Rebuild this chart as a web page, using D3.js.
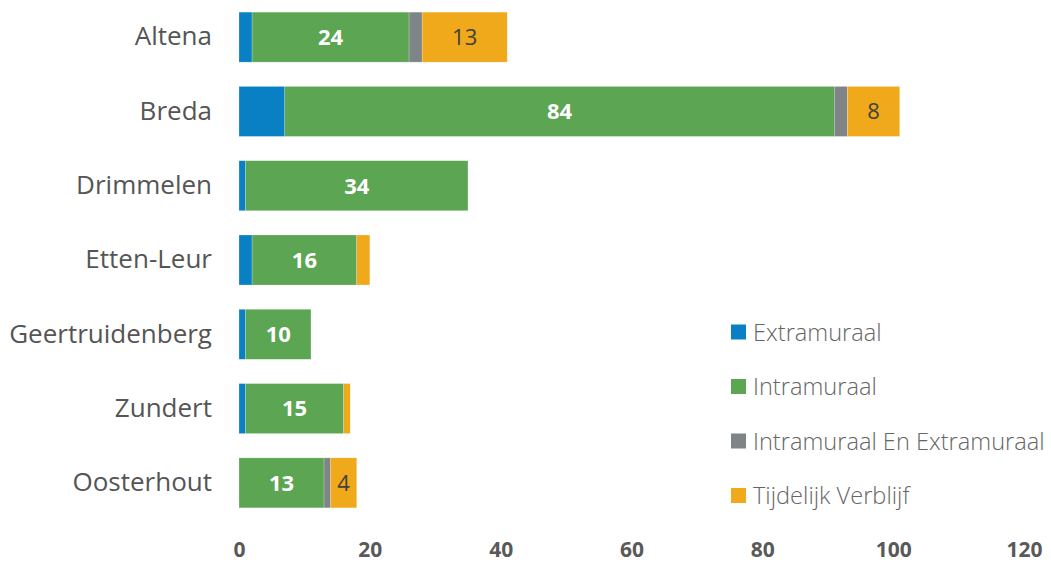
<!DOCTYPE html>
<html>
<head>
<meta charset="utf-8">
<script src="https://cdn.jsdelivr.net/npm/d3@7"></script>
<style>
  html, body { margin: 0; padding: 0; background: #fff; }
  svg { display: block; font-family: "Open Sans", sans-serif; }
</style>
</head>
<body>
<svg id="chart" width="1051" height="565"></svg>
<script>
// Gemeenten (top to bottom)
const categories = ["Altena", "Breda", "Drimmelen", "Etten-Leur", "Geertruidenberg", "Zundert", "Oosterhout"];

// Series, stacked left to right
const seriesNames = ["Extramuraal", "Intramuraal", "Intramuraal En Extramuraal", "Tijdelijk Verblijf"];
const extramuraal  = [2, 7, 1, 2, 1, 1, 0];
const intramuraal  = [24, 84, 34, 16, 10, 15, 13];
const intraExtra   = [2, 2, 0, 0, 0, 0, 1];
const tijdelijk    = [13, 8, 0, 2, 0, 1, 4];

const xTicks = [0, 20, 40, 60, 80, 100, 120];

const colors = ["#0a80c4", "#5ba553", "#7f8487", "#f0a91b"];
const labelColors = [null, "#ffffff", null, "#404040"];
const labelWeights = [null, 700, null, 400];

const rows = categories.map((c, i) => ({
  cat: c,
  "Extramuraal": extramuraal[i],
  "Intramuraal": intramuraal[i],
  "Intramuraal En Extramuraal": intraExtra[i],
  "Tijdelijk Verblijf": tijdelijk[i]
}));

const svg = d3.select("#chart");

const x = d3.scaleLinear().domain([0, 120]).range([239, 1024]);
const y = d3.scaleBand().domain(categories).range([0, 520])
  .paddingInner(0.327).paddingOuter(0.1635);

const stacked = d3.stack().keys(seriesNames)(rows);

const layers = svg.append("g").selectAll("g.layer")
  .data(stacked)
  .join("g")
  .attr("class", "layer")
  .attr("fill", (d, i) => colors[i]);

layers.selectAll("rect")
  .data(d => d.filter(s => s[1] - s[0] > 0))
  .join("rect")
  .attr("x", d => x(d[0]))
  .attr("y", d => y(d.data.cat))
  .attr("width", d => x(d[1]) - x(d[0]))
  .attr("height", y.bandwidth())
  .attr("stroke", "#ffffff")
  .attr("stroke-opacity", 0.35)
  .attr("stroke-width", 0.6);

// Value labels for Intramuraal and for larger Tijdelijk Verblijf segments
stacked.forEach((layer, i) => {
  if (!labelColors[i]) return;
  svg.append("g").selectAll("text")
    .data(layer.filter(s => (s[1] - s[0]) >= 4))
    .join("text")
    .attr("x", d => (x(d[0]) + x(d[1])) / 2)
    .attr("y", d => y(d.data.cat) + y.bandwidth() / 2)
    .attr("dy", "0.36em")
    .attr("text-anchor", "middle")
    .attr("font-size", 22)
    .attr("font-weight", labelWeights[i])
    .attr("fill", labelColors[i])
    .text(d => d[1] - d[0]);
});

// Category labels
svg.append("g").selectAll("text")
  .data(categories)
  .join("text")
  .attr("x", 212)
  .attr("y", d => y(d) + y.bandwidth() / 2)
  .attr("dy", "0.32em")
  .attr("text-anchor", "end")
  .attr("font-size", 26)
  .attr("fill", "#555555")
  .text(d => d);

// X axis
const xAxis = svg.append("g")
  .attr("transform", "translate(0,524)")
  .call(d3.axisBottom(x).tickValues(xTicks).tickSize(0).tickPadding(18));
xAxis.select(".domain").remove();
xAxis.selectAll("text")
  .attr("font-family", "'Open Sans', sans-serif")
  .attr("font-size", 21)
  .attr("font-weight", 700)
  .attr("fill", "#595959");

// Legend
const legend = svg.append("g").selectAll("g")
  .data(seriesNames)
  .join("g")
  .attr("transform", (d, i) => `translate(731,${332 + i * 54.5})`);
legend.append("rect")
  .attr("x", 0).attr("y", -7.5)
  .attr("width", 15).attr("height", 15)
  .attr("fill", (d, i) => colors[i]);
legend.append("text")
  .attr("x", 22)
  .attr("y", 0)
  .attr("dy", "0.36em")
  .attr("font-size", 23.6)
  .attr("font-weight", 300)
  .attr("fill", "#666666")
  .text(d => d);
</script>
</body>
</html>
